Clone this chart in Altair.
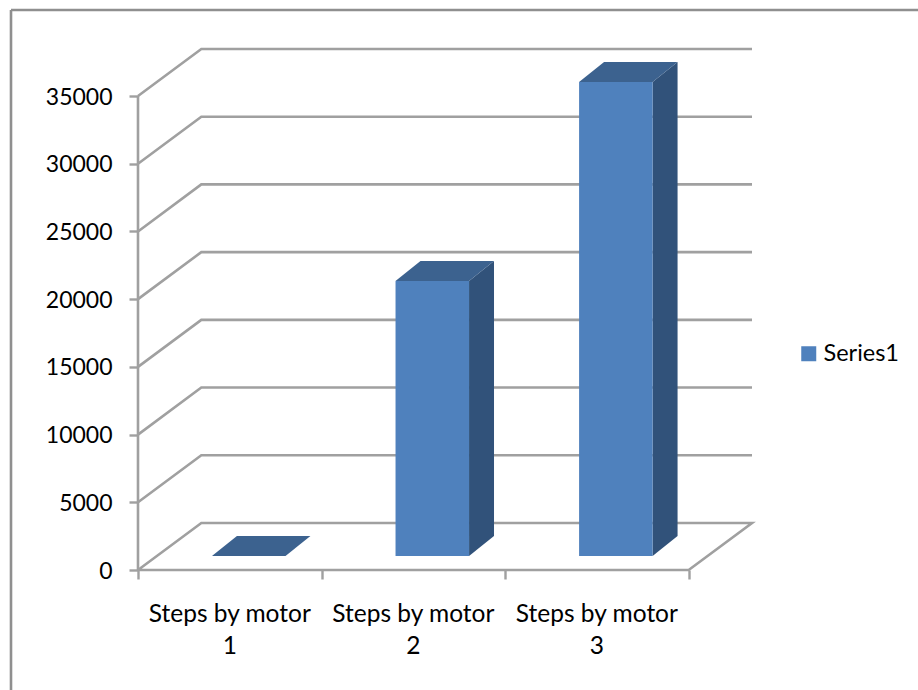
import altair as alt
import pandas as pd

# Chart content
categories = ["Steps by motor\n1", "Steps by motor\n2", "Steps by motor\n3"]
series_name = "Series1"
step_values = [0, 20300, 35000]
y_ticks = [0, 5000, 10000, 15000, 20000, 25000, 30000, 35000]
x_ticks = [0, 1, 2, 3]

# Oblique projection, in axis units: x counts categories, y counts steps
WALL_DX = 0.345
WALL_DY = 3474
BAR_GAP = 0.403
BAR_LIFT = 1035
BAR_WIDTH = 0.4005
BAR_DX = 0.136
BAR_DY = 1478

GREY = "#a0a0a0"
FONT = "Lato"

x_scale = alt.Scale(domain=[0, 3 + WALL_DX], nice=False, zero=False)
y_scale = alt.Scale(domain=[0, 35000 + WALL_DY], nice=False, zero=False)

# Wall and floor lines
grid_rows = []
for v in y_ticks:
    path = [(0, v), (WALL_DX, v + WALL_DY), (3 + WALL_DX, v + WALL_DY)]
    if v == 0:
        path += [(3, 0), (0, 0)]
    for i, (px, py) in enumerate(path):
        grid_rows.append({"line": v, "i": i, "x": px, "y": py})
grid_df = pd.DataFrame(grid_rows)

# Bar faces
front, side, top, labels = [], [], [], []
for i, (cat, v) in enumerate(zip(categories, step_values)):
    x0 = i + BAR_GAP
    x1 = x0 + BAR_WIDTH
    base = BAR_LIFT
    roof = BAR_LIFT + v
    front.append({"x": x0, "x2": x1, "y": base, "y2": roof, "series": series_name})
    side.append({"bar": i, "x": x1, "y": roof, "y2": base})
    side.append({"bar": i, "x": x1 + BAR_DX, "y": roof + BAR_DY, "y2": base + BAR_DY})
    top.append({"bar": i, "x": x0, "x2": x1, "y": roof})
    top.append({"bar": i, "x": x0 + BAR_DX, "x2": x1 + BAR_DX, "y": roof + BAR_DY})
    labels.append({"x": i + 0.5, "y": 0, "label": cat})

x_enc = alt.X(
    "x:Q",
    scale=x_scale,
    title=None,
    axis=alt.Axis(
        values=x_ticks, labels=False, domain=False, grid=False,
        tickSize=9, tickWidth=2.4, tickColor=GREY,
    ),
)
y_enc = alt.Y(
    "y:Q",
    scale=y_scale,
    title=None,
    axis=alt.Axis(
        values=y_ticks, domain=False, grid=False, format="d",
        tickSize=9, tickWidth=2.4, tickColor=GREY,
        labelFont=FONT, labelFontSize=23, labelColor="#000000",
        labelPadding=17, labelOffset=1,
    ),
)

grid = (
    alt.Chart(grid_df)
    .mark_line(color=GREY, strokeWidth=2.6, strokeJoin="miter")
    .encode(x=x_enc, y=y_enc, detail="line:N", order="i:Q")
)

# Vertical axis line between the lowest and highest tick
axis_line = (
    alt.Chart(pd.DataFrame({"x": [0], "y": [y_ticks[0]], "y2": [y_ticks[-1]]}))
    .mark_rule(color=GREY, strokeWidth=2.6)
    .encode(x=alt.X("x:Q", scale=x_scale), y=alt.Y("y:Q", scale=y_scale), y2="y2:Q")
)

side_faces = (
    alt.Chart(pd.DataFrame(side))
    .mark_area(color="#31527a")
    .encode(
        x=alt.X("x:Q", scale=x_scale),
        y=alt.Y("y:Q", scale=y_scale),
        y2="y2:Q",
        detail="bar:N",
    )
)

top_faces = (
    alt.Chart(pd.DataFrame(top))
    .mark_area(color="#3c628f", orient="horizontal")
    .encode(
        x=alt.X("x:Q", scale=x_scale),
        x2="x2:Q",
        y=alt.Y("y:Q", scale=y_scale),
        detail="bar:N",
    )
)

front_faces = (
    alt.Chart(pd.DataFrame(front))
    .mark_rect()
    .encode(
        x=alt.X("x:Q", scale=x_scale),
        x2="x2:Q",
        y=alt.Y("y:Q", scale=y_scale),
        y2="y2:Q",
        color=alt.Color(
            "series:N",
            scale=alt.Scale(domain=[series_name], range=["#4f81bd"]),
            legend=alt.Legend(
                title=None,
                orient="none",
                legendX=659,
                legendY=293,
                padding=0,
                symbolType="square",
                symbolSize=225,
                symbolStrokeWidth=0,
                labelFont=FONT,
                labelFontSize=23.5,
                labelColor="#000000",
                labelOffset=3,
            ),
        ),
    )
)

category_labels = (
    alt.Chart(pd.DataFrame(labels))
    .mark_text(
        font=FONT, fontSize=24.5, color="#000000", align="center",
        baseline="top", lineBreak="\n", lineHeight=32, dy=33,
    )
    .encode(
        x=alt.X("x:Q", scale=x_scale),
        y=alt.Y("y:Q", scale=y_scale),
        text="label:N",
    )
)

# Chart border: only its top and left edges fall inside the frame
frame_top = alt.Chart(pd.DataFrame({"a": [0]})).mark_rule(color="#8f8f8f", strokeWidth=2.6).encode(
    x=alt.value(-127), x2=alt.value(780), y=alt.value(-39)
)
frame_left = alt.Chart(pd.DataFrame({"a": [0]})).mark_rule(color="#8f8f8f", strokeWidth=2.6).encode(
    x=alt.value(-127), y=alt.value(-39), y2=alt.value(641)
)

chart = (
    alt.layer(
        grid, axis_line, side_faces, top_faces, front_faces,
        category_labels, frame_top, frame_left,
    )
    .properties(
        width=614,
        height=521,
        padding={"left": 138, "top": 49, "right": 166, "bottom": 120},
        autosize="none",
        background="#ffffff",
    )
    .configure_view(stroke=None)
)

chart.save("out.html", embed_options={"renderer": "svg", "actions": False})
